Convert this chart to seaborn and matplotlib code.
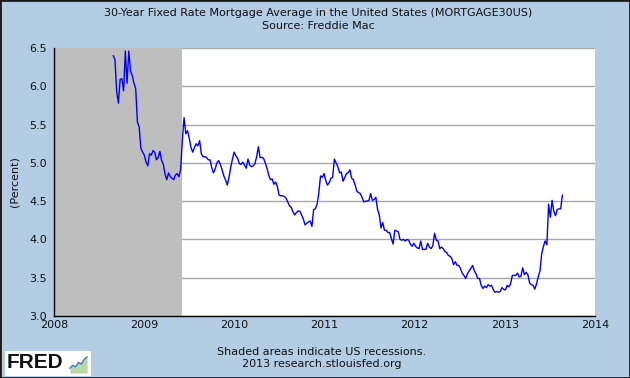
import numpy as np
import pandas as pd
import matplotlib
matplotlib.use("Agg")
import matplotlib.pyplot as plt
from matplotlib.patches import Rectangle
import seaborn as sns

# ---- data (weekly, Thursdays) ----
start_date = "2008-08-28"
rates_2008 = [6.40, 6.35, 5.93, 5.78, 6.09, 6.10, 5.94, 6.46, 6.04, 6.46, 6.20, 6.14,
              6.04, 5.97, 5.53, 5.47, 5.19, 5.14]
rates_2009 = [5.10, 5.01, 4.96, 5.12, 5.10, 5.16, 5.14, 5.04, 5.07, 5.15, 5.03, 4.98,
              4.85, 4.78, 4.87, 4.82, 4.80, 4.78, 4.84, 4.86, 4.82, 4.91, 5.29, 5.59,
              5.38, 5.42, 5.32, 5.20, 5.14, 5.20, 5.25, 5.22, 5.29, 5.12, 5.08, 5.08,
              5.07, 5.04, 5.04, 4.94, 4.87, 4.92, 5.00, 5.03, 4.98, 4.91, 4.83, 4.78,
              4.71, 4.81, 4.94, 5.05, 5.14]
rates_2010 = [5.09, 5.06, 4.99, 4.98, 5.01, 4.97, 4.93, 5.05, 4.97, 4.95, 4.96, 4.99,
              5.08, 5.21, 5.07, 5.07, 5.06, 5.00, 4.93, 4.84, 4.78, 4.79, 4.72, 4.75,
              4.69, 4.58, 4.57, 4.57, 4.56, 4.54, 4.49, 4.44, 4.42, 4.36, 4.32, 4.35,
              4.37, 4.37, 4.32, 4.27, 4.19, 4.21, 4.23, 4.24, 4.17, 4.39, 4.40, 4.46,
              4.61, 4.83, 4.81, 4.86]
rates_2011 = [4.77, 4.71, 4.74, 4.80, 4.81, 5.05, 5.00, 4.95, 4.87, 4.88, 4.76, 4.81,
              4.86, 4.87, 4.91, 4.80, 4.78, 4.71, 4.63, 4.61, 4.60, 4.55, 4.49, 4.50,
              4.50, 4.51, 4.60, 4.51, 4.52, 4.55, 4.39, 4.32, 4.15, 4.22, 4.12, 4.12,
              4.09, 4.09, 4.01, 3.94, 4.12, 4.11, 4.10, 4.00, 3.99, 4.00, 3.98, 4.00,
              3.99, 3.94, 3.91, 3.95]
rates_2012 = [3.91, 3.89, 3.88, 3.98, 3.87, 3.87, 3.87, 3.95, 3.90, 3.88, 3.92, 4.08,
              3.99, 3.98, 3.88, 3.90, 3.88, 3.84, 3.83, 3.79, 3.78, 3.75, 3.67, 3.71,
              3.66, 3.66, 3.62, 3.56, 3.53, 3.49, 3.55, 3.59, 3.62, 3.66, 3.59, 3.55,
              3.49, 3.49, 3.40, 3.36, 3.39, 3.37, 3.41, 3.39, 3.40, 3.34, 3.31, 3.32,
              3.31, 3.32, 3.37, 3.35]
rates_2013 = [3.34, 3.40, 3.38, 3.42, 3.53, 3.53, 3.53, 3.56, 3.51, 3.52, 3.63, 3.54,
              3.57, 3.54, 3.43, 3.41, 3.40, 3.35, 3.42, 3.51, 3.59, 3.81, 3.91, 3.98,
              3.93, 4.46, 4.29, 4.51, 4.37, 4.31, 4.39, 4.40, 4.40, 4.58]

recession_start = "2007-12-01"
recession_end = "2009-06-01"
y_ticks = [3.0, 3.5, 4.0, 4.5, 5.0, 5.5, 6.0, 6.5]
x_years = [2008, 2009, 2010, 2011, 2012, 2013, 2014]
logo_trend = [1.0, 1.6, 1.3, 2.2, 1.9, 2.9, 3.4]

title_text = "30-Year Fixed Rate Mortgage Average in the United States (MORTGAGE30US)\nSource: Freddie Mac"
y_label = "(Percent)"
footer_1 = "Shaded areas indicate US recessions."
footer_2 = "2013 research.stlouisfed.org"

# ---- build frame ----
rates = rates_2008 + rates_2009 + rates_2010 + rates_2011 + rates_2012 + rates_2013
dates = pd.date_range(start=start_date, periods=len(rates), freq="7D")
df = pd.DataFrame({"date": dates, "rate": rates})

# ---- style ----
sns.set_theme(style="white")
plt.rcParams["font.family"] = ["DejaVu Sans"]
bg = "#B4CDE4"
fs = 8.0

fig = plt.figure(figsize=(6.3, 3.78), dpi=100, facecolor=bg)
ax = fig.add_axes([54 / 630, 1 - 316 / 378, (595 - 54) / 630, (316 - 48) / 378])
ax.set_facecolor("white")

ax.axvspan(pd.Timestamp(recession_start), pd.Timestamp(recession_end),
           color="#BEBEBE", lw=0, zorder=1)
sns.lineplot(data=df, x="date", y="rate", ax=ax, color="#0000FF", lw=1.0, zorder=3)

ax.set_xlim(pd.Timestamp(f"{x_years[0]}-01-01"), pd.Timestamp(f"{x_years[-1]}-01-01"))
ax.set_ylim(y_ticks[0], y_ticks[-1])
ax.set_yticks(y_ticks)
ax.set_yticklabels([f"{v:.1f}" for v in y_ticks])
ax.set_xticks([pd.Timestamp(f"{y}-01-01") for y in x_years])
ax.set_xticklabels([str(y) for y in x_years])

ax.grid(axis="y", color="#A8A8A8", lw=1.0, zorder=0)
ax.grid(axis="x", visible=False)
ax.set_axisbelow(True)

for s in ["top", "right"]:
    ax.spines[s].set_visible(False)
for s in ["left", "bottom"]:
    ax.spines[s].set_color("black")
    ax.spines[s].set_linewidth(1.0)
    ax.spines[s].set_zorder(5)

ax.tick_params(axis="both", direction="in", length=5, width=1, color="black",
               labelsize=fs, labelcolor="#111111")
ax.tick_params(axis="x", pad=3)
ax.tick_params(axis="y", pad=5)
ax.set_xlabel("")
ax.set_ylabel(y_label, fontsize=fs, color="#111111")
ax.yaxis.set_label_coords((20 - 54) / 541, 0.5)

fig.text(0.505, 1 - 19.5 / 378, title_text, ha="center", va="center",
         fontsize=fs, color="#111111", linespacing=1.4)
fig.text(0.51, 1 - 358 / 378, footer_1 + "\n" + footer_2, ha="center", va="center",
         fontsize=fs, color="#111111", linespacing=1.35)

# FRED logo box
fig.patches.append(Rectangle((5 / 630, 2 / 378), 86 / 630, 25 / 378, transform=fig.transFigure,
                             facecolor="white", edgecolor="none", zorder=2))
fig.text(7 / 630, 1 - 363 / 378, "FRED", ha="left", va="center", fontsize=15,
         fontweight="bold", family=["Liberation Sans", "DejaVu Sans"], color="#111111",
         zorder=3)
iax = fig.add_axes([69 / 630, 5 / 378, 19 / 630, 19 / 378], zorder=6)
iax.fill_between(range(len(logo_trend)), 0, logo_trend, color="#B9D7A8", lw=0)
iax.plot(range(len(logo_trend)), logo_trend, color="#3C78B4", lw=1.0)
iax.set_ylim(0, 4)
iax.set_axis_off()

# figure border
fig.patches.append(Rectangle((0, 0), 1, 1, transform=fig.transFigure, fill=False,
                             edgecolor="#1A1A1A", lw=2.0, zorder=10))

fig.savefig("out.png", dpi=100, facecolor=bg)
